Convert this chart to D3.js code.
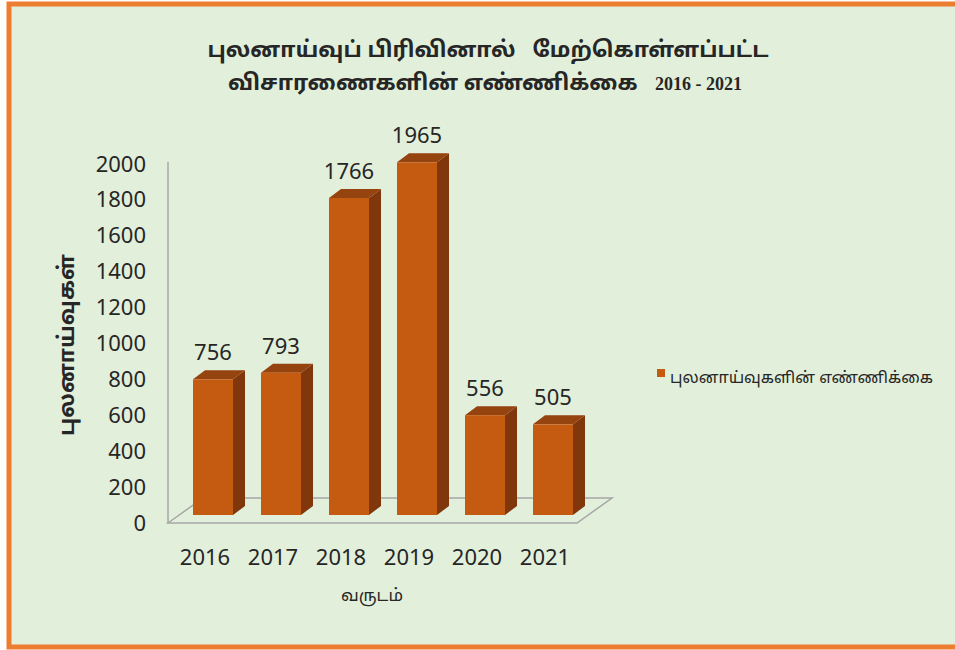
<!DOCTYPE html>
<html lang="ta">
<head>
<meta charset="utf-8">
<title>chart</title>
<script src="https://cdn.jsdelivr.net/npm/d3@7/dist/d3.min.js"></script>
<style>
  body { margin: 0; background: #fff; }
  svg text { font-family: "Noto Sans", "Noto Sans Tamil", sans-serif; fill: #262626; white-space: pre; }
</style>
</head>
<body>
<svg width="955" height="650"></svg>
<script>
// data
var years = ["2016", "2017", "2018", "2019", "2020", "2021"];
var counts = [756, 793, 1766, 1965, 556, 505];
var yTicks = [0, 200, 400, 600, 800, 1000, 1200, 1400, 1600, 1800, 2000];
var titleLine1 = "புலனாய்வுப் பிரிவினால்   மேற்கொள்ளப்பட்ட";
var titleLine2 = "விசாரணைகளின் எண்ணிக்கை";
var titleYears = "2016 - 2021";
var yTitle = "புலனாய்வுகள்";
var xTitle = "வருடம்";
var seriesName = "புலனாய்வுகளின் எண்ணிக்கை";

var svg = d3.select("svg");

// background + orange frame
svg.append("rect").attr("x", 0).attr("y", 0).attr("width", 955).attr("height", 650).attr("fill", "#ffffff");
svg.append("rect").attr("x", 9).attr("y", 4).attr("width", 960).attr("height", 643)
  .attr("fill", "#E2EFDA").attr("stroke", "#ED7D31").attr("stroke-width", 5);

var x = d3.scalePoint().domain(years).range([213, 553]);
var y = d3.scaleLinear().domain([0, 2000]).range([515, 156]);
var barW = 40, dx = 12, dy = -9;

// floor and wall edge
var fl = 168, fr = 577, fy = 523, ddx = 35, ddy = -25;
svg.append("path")
  .attr("d", "M" + fl + "," + fy + "L" + (fl + ddx) + "," + (fy + ddy) + "L" + (fr + ddx) + "," + (fy + ddy) + "L" + fr + "," + fy + "Z")
  .attr("fill", "none").attr("stroke", "#A6A6A6").attr("stroke-width", 1.5);
svg.append("line").attr("x1", fl).attr("x2", fl).attr("y1", y(2000) + 6).attr("y2", fy)
  .attr("stroke", "#A6A6A6").attr("stroke-width", 1.5);

// y axis labels
var yAxis = d3.axisLeft(y).tickValues(yTicks).tickFormat(d3.format("d")).tickSize(0).tickPadding(0);
var gy = svg.append("g").attr("transform", "translate(146, 8)").call(yAxis);
gy.select(".domain").remove();
gy.selectAll("text").attr("font-size", 22).style("font-family", "Noto Sans").attr("fill", "#262626");

// bars
var bars = svg.selectAll("g.bar").data(counts).enter().append("g").attr("class", "bar");
bars.append("path")
  .attr("fill", "#7F370B")
  .attr("d", function (d, i) {
    var x1 = x(years[i]) + barW / 2, t = y(d), b = y(0);
    return "M" + x1 + "," + b + "L" + (x1 + dx) + "," + (b + dy) + "L" + (x1 + dx) + "," + (t + dy) + "L" + x1 + "," + t + "Z";
  });
bars.append("path")
  .attr("fill", "#95430F")
  .attr("d", function (d, i) {
    var x0 = x(years[i]) - barW / 2, x1 = x0 + barW, t = y(d);
    return "M" + x0 + "," + t + "L" + (x0 + dx) + "," + (t + dy) + "L" + (x1 + dx) + "," + (t + dy) + "L" + x1 + "," + t + "Z";
  });
bars.append("rect")
  .attr("fill", "#C55A11")
  .attr("x", function (d, i) { return x(years[i]) - barW / 2; })
  .attr("width", barW)
  .attr("y", function (d) { return y(d); })
  .attr("height", function (d) { return y(0) - y(d); });

// value labels
bars.append("text")
  .attr("x", function (d, i) { return x(years[i]); })
  .attr("y", function (d) { return y(d) - 19; })
  .attr("text-anchor", "middle")
  .attr("font-size", 22)
  .text(function (d) { return d; });

// x labels
svg.selectAll("text.xl").data(years).enter().append("text")
  .attr("class", "xl")
  .attr("x", function (d) { return x(d) - 8; })
  .attr("y", 565)
  .attr("text-anchor", "middle")
  .attr("font-size", 22)
  .text(function (d) { return d; });

// axis titles
svg.append("text").attr("x", 372).attr("y", 601).attr("text-anchor", "middle")
  .attr("font-size", 17).text(xTitle);
svg.append("text").attr("transform", "translate(74,345) rotate(-90)").attr("text-anchor", "middle")
  .attr("font-size", 22).attr("font-weight", "bold").text(yTitle);

// title
svg.append("text").attr("x", 488).attr("y", 57).attr("text-anchor", "middle")
  .attr("font-size", 22).attr("font-weight", "bold").text(titleLine1);
var t2 = svg.append("text").attr("x", 485).attr("y", 90).attr("text-anchor", "middle")
  .attr("font-size", 22).attr("font-weight", "bold");
t2.append("tspan").text(titleLine2 + "   ");
t2.append("tspan").attr("font-size", 18).style("font-family", "Liberation Serif").text(titleYears);

// legend
svg.append("rect").attr("x", 657).attr("y", 369).attr("width", 8).attr("height", 8).attr("fill", "#C55A11");
svg.append("text").attr("x", 670).attr("y", 383).attr("font-size", 16).text(seriesName);
</script>
</body>
</html>
